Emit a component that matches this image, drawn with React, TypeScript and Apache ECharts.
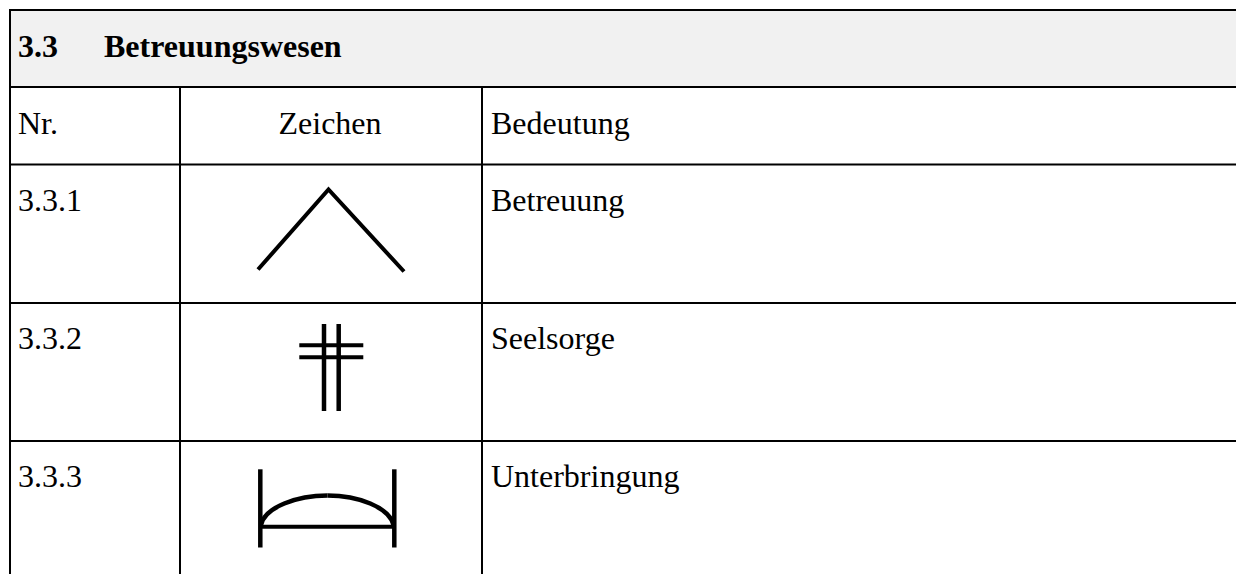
import React, { useEffect, useRef } from "react";
import * as echarts from "echarts";

const sectionNumber = "3.3";
const sectionTitle = "Betreuungswesen";
const headers = ["Nr.", "Zeichen", "Bedeutung"];
const numbers = ["3.3.1", "3.3.2", "3.3.3"];
const meanings = ["Betreuung", "Seelsorge", "Unterbringung"];

const FONT = '"Liberation Serif", "Times New Roman", serif';
const INK = "#000000";

function txt(text: string, x: number, y: number, bold = false, align = "left") {
  return {
    type: "text",
    x,
    y,
    silent: true,
    style: {
      text,
      fill: INK,
      font: `${bold ? "bold " : ""}32px ${FONT}`,
      textAlign: align,
      textVerticalAlign: "middle",
    },
  };
}
function line(x1: number, y1: number, x2: number, y2: number, w: number) {
  return { type: "line", silent: true, shape: { x1, y1, x2, y2 }, style: { stroke: INK, lineWidth: w, lineCap: "butt" } };
}
function curve(x1: number, y1: number, cpx1: number, cpy1: number, cpx2: number, cpy2: number, x2: number, y2: number, w: number) {
  return {
    type: "bezierCurve",
    silent: true,
    shape: { x1, y1, cpx1, cpy1, cpx2, cpy2, x2, y2 },
    style: { stroke: INK, lineWidth: w, fill: "none" },
  };
}

export default function App() {
  const ref = useRef<HTMLDivElement>(null);
  useEffect(() => {
    const chart = echarts.init(ref.current!, undefined, { renderer: "svg" });
    const rowY = [200, 338, 476];
    const graphic: any[] = [
      { type: "rect", silent: true, shape: { x: 10, y: 10, width: 1226, height: 77 }, style: { fill: "#f1f1f1" } },
      // table rules
      line(9, 10, 1236, 10, 2),
      line(9, 87, 1236, 87, 2),
      line(9, 164.5, 1236, 164.5, 2),
      line(9, 303, 1236, 303, 2),
      line(9, 441, 1236, 441, 2),
      line(10, 9, 10, 574, 2),
      line(180, 87, 180, 574, 2),
      line(482, 87, 482, 574, 2),
      // texts
      txt(sectionNumber, 18, 46, true),
      txt(sectionTitle, 104, 46, true),
      txt(headers[0], 18, 123),
      txt(headers[1], 330, 123, false, "center"),
      txt(headers[2], 491, 123),
      ...numbers.map((n, i) => txt(n, 18, rowY[i])),
      ...meanings.map((m, i) => txt(m, 491, rowY[i])),
      // sign 3.3.1
      {
        type: "polyline",
        silent: true,
        shape: { points: [[258, 269.5], [328.5, 189.5], [404, 271.5]] },
        style: { stroke: INK, lineWidth: 4, fill: "none", lineJoin: "miter" },
      },
      // sign 3.3.2
      line(324, 324, 324, 411, 4.5),
      line(338.7, 324, 338.7, 411, 4.5),
      line(299.3, 345.3, 363.3, 345.3, 4),
      line(299.3, 357.3, 363.3, 357.3, 4),
      // sign 3.3.3
      line(260.3, 469.3, 260.3, 547.5, 4.5),
      line(394.3, 469.3, 394.3, 547.5, 4.5),
      line(260, 526.7, 394, 526.7, 4),
      curve(261, 525, 265, 507, 297, 495.5, 327.5, 495.5, 4.5),
      curve(327.5, 495.5, 358, 495.5, 389, 507, 393.5, 525, 4.5),
    ];
    chart.setOption({ animation: false, backgroundColor: "#ffffff", graphic: { elements: graphic } });
    return () => chart.dispose();
  }, []);
  return <div ref={ref} style={{ position: "absolute", left: 0, top: 0, width: 1236, height: 574 }} />;
}
